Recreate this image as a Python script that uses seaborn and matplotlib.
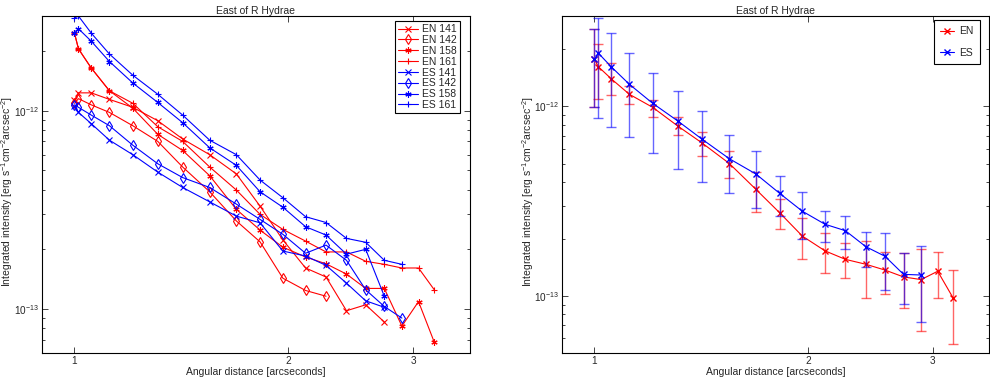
import matplotlib
matplotlib.use('Agg')
import matplotlib.pyplot as plt
import matplotlib.ticker as mticker
import numpy as np
import seaborn as sns

# Angular distance of each annulus [arcsec]
radius = [1.0, 1.013, 1.056, 1.12, 1.208, 1.31, 1.42, 1.55, 1.69, 1.825,
          1.965, 2.115, 2.26, 2.415, 2.57, 2.73, 2.89, 3.05, 3.21]

# Left panel: individual profiles (erg s-1 cm-2 arcsec-2)
en_141 = [1.13e-12, 1.23e-12, 1.23e-12, 1.14e-12, 1.04e-12, 8.9e-13, 7.2e-13, 6.0e-13,
          4.8e-13, 3.3e-13, 2.23e-13, 1.61e-13, 1.45e-13, 9.8e-14, 1.05e-13, 8.6e-14]
en_142 = [1.09e-12, 1.15e-12, 1.07e-12, 9.8e-13, 8.4e-13, 7.0e-13, 5.2e-13, 3.9e-13,
          2.78e-13, 2.18e-13, 1.43e-13, 1.24e-13, 1.16e-13]
en_158 = [2.46e-12, 2.05e-12, 1.64e-12, 1.26e-12, 1.03e-12, 7.6e-13, 6.3e-13, 4.7e-13,
          3.18e-13, 2.5e-13, 2.05e-13, 1.83e-13, 1.69e-13, 1.5e-13, 1.27e-13, 1.27e-13,
          8.2e-14, 1.09e-13, 6.8e-14]
en_161 = [2.46e-12, 2.05e-12, 1.64e-12, 1.26e-12, 1.09e-12, 8.3e-13, 7.0e-13, 5.2e-13,
          3.98e-13, 3.0e-13, 2.52e-13, 2.2e-13, 1.94e-13, 1.94e-13, 1.74e-13, 1.68e-13,
          1.61e-13, 1.61e-13, 1.25e-13]
es_141 = [1.05e-12, 9.8e-13, 8.6e-13, 7.1e-13, 6.0e-13, 4.9e-13, 4.1e-13, 3.47e-13,
          2.94e-13, 2.72e-13, 1.96e-13, 1.85e-13, 1.66e-13, 1.35e-13, 1.10e-13, 1.02e-13]
es_142 = [1.07e-12, 1.04e-12, 9.5e-13, 8.4e-13, 6.7e-13, 5.4e-13, 4.6e-13, 4.1e-13,
          3.38e-13, 2.83e-13, 2.38e-13, 1.91e-13, 2.1e-13, 1.76e-13, 1.25e-13, 1.03e-13,
          9.0e-14]
es_158 = [2.46e-12, 2.59e-12, 2.24e-12, 1.77e-12, 1.38e-12, 1.10e-12, 8.7e-13, 6.5e-13,
          5.3e-13, 3.9e-13, 3.26e-13, 2.6e-13, 2.36e-13, 1.89e-13, 2.0e-13, 1.16e-13]
es_161 = [2.93e-12, 3.0e-12, 2.46e-12, 1.93e-12, 1.51e-12, 1.21e-12, 9.5e-13, 7.1e-13,
          6.0e-13, 4.47e-13, 3.64e-13, 2.92e-13, 2.73e-13, 2.27e-13, 2.17e-13, 1.76e-13,
          1.68e-13]

# Right panel: mean profiles with lower / upper bounds
en_mean = [1.77e-12, 1.62e-12, 1.40e-12, 1.16e-12, 9.9e-13, 7.9e-13, 6.4e-13, 5.0e-13,
           3.65e-13, 2.75e-13, 2.07e-13, 1.73e-13, 1.56e-13, 1.47e-13, 1.37e-13, 1.26e-13,
           1.22e-13, 1.35e-13, 9.7e-14]
en_low = [9.9e-13, 1.10e-12, 1.15e-12, 1.03e-12, 8.8e-13, 7.1e-13, 5.5e-13, 4.2e-13,
          2.76e-13, 2.26e-13, 1.57e-13, 1.32e-13, 1.24e-13, 9.8e-14, 1.02e-13, 8.6e-14,
          6.5e-14, 9.8e-14, 5.6e-14]
en_high = [2.55e-12, 2.13e-12, 1.70e-12, 1.28e-12, 1.08e-12, 8.8e-13, 7.3e-13, 5.8e-13,
           4.5e-13, 3.23e-13, 2.57e-13, 2.14e-13, 1.9e-13, 1.96e-13, 1.71e-13, 1.69e-13,
           1.78e-13, 1.71e-13, 1.37e-13]
es_mean = [1.77e-12, 1.91e-12, 1.62e-12, 1.31e-12, 1.04e-12, 8.4e-13, 6.7e-13, 5.3e-13,
           4.4e-13, 3.48e-13, 2.8e-13, 2.39e-13, 2.21e-13, 1.82e-13, 1.62e-13, 1.30e-13,
           1.29e-13]
es_low = [9.9e-13, 8.7e-13, 7.8e-13, 6.9e-13, 5.7e-13, 4.7e-13, 4.0e-13, 3.5e-13,
          2.9e-13, 2.64e-13, 2.01e-13, 1.93e-13, 1.76e-13, 1.43e-13, 1.08e-13, 9.1e-14,
          7.3e-14]
es_high = [2.55e-12, 2.92e-12, 2.45e-12, 1.92e-12, 1.51e-12, 1.21e-12, 9.5e-13, 7.1e-13,
           5.8e-13, 4.3e-13, 3.55e-13, 2.82e-13, 2.65e-13, 2.18e-13, 2.16e-13, 1.69e-13,
           1.83e-13]

sns.set_style('ticks')
plt.rcParams['font.family'] = ['Liberation Sans', 'DejaVu Sans']
plt.rcParams['mathtext.default'] = 'regular'
plt.rcParams['font.size'] = 7.5

fig = plt.figure(figsize=(9.9, 3.79), dpi=100)
ax1 = fig.add_axes([0.0424, 0.0686, 0.432, 0.889])
ax2 = fig.add_axes([0.5677, 0.0686, 0.431, 0.889])

# (label, values, colour, marker, hollow)
left_series = [
    ('EN 141', en_141, 'red', 'x', False),
    ('EN 142', en_142, 'red', 'd', True),
    ('EN 158', en_158, 'red', (6, 2, 0), False),
    ('EN 161', en_161, 'red', '+', False),
    ('ES 141', es_141, 'blue', 'x', False),
    ('ES 142', es_142, 'blue', 'd', True),
    ('ES 158', es_158, 'blue', (6, 2, 0), False),
    ('ES 161', es_161, 'blue', '+', False),
]
for label, vals, col, mk, hollow in left_series:
    sns.lineplot(x=radius[:len(vals)], y=vals, ax=ax1, color=col, label=label,
                 marker=mk, markersize=5 if hollow else 4.5,
                 markerfacecolor='none' if hollow else col,
                 markeredgecolor=col, markeredgewidth=0.8, linewidth=0.8)

# Right panel: error bars then mean profiles
for mean, low, high, col, label in [(en_mean, en_low, en_high, 'red', 'EN'),
                                    (es_mean, es_low, es_high, 'blue', 'ES')]:
    r = radius[:len(mean)]
    m = np.array(mean)
    yerr = [m - np.array(low), np.array(high) - m]
    ax2.errorbar(r, m, yerr=yerr, fmt='none', ecolor=col, alpha=0.6,
                 elinewidth=1.0, capsize=3.6, capthick=1.0)
    sns.lineplot(x=r, y=mean, ax=ax2, color=col, label=label, marker='x',
                 markersize=4, markeredgecolor=col, markeredgewidth=1.0,
                 linewidth=0.8)

for ax, ylo in [(ax1, 6e-14), (ax2, 5e-14)]:
    ax.set_xscale('log')
    ax.set_yscale('log')
    ax.set_xlim(0.9, 3.6)
    ax.set_ylim(ylo, 3e-12)
    ax.xaxis.set_major_locator(mticker.FixedLocator([1, 2, 3]))
    ax.xaxis.set_major_formatter(mticker.FixedFormatter(['1', '2', '3']))
    ax.xaxis.set_minor_locator(mticker.NullLocator())
    ax.yaxis.set_major_locator(mticker.FixedLocator([1e-13, 1e-12]))
    ax.yaxis.set_minor_locator(mticker.FixedLocator(
        [k * 1e-14 for k in range(5, 10)] + [k * 1e-13 for k in range(2, 10)]
        + [2e-12, 3e-12]))
    ax.yaxis.set_minor_formatter(mticker.NullFormatter())
    ax.tick_params(which='both', direction='in', top=True, right=True,
                   labelsize=7.2, width=0.6, pad=2)
    ax.tick_params(which='major', length=4)
    ax.tick_params(which='minor', length=2.5)
    for sp in ax.spines.values():
        sp.set_linewidth(0.8)
        sp.set_color('black')
    ax.set_title('East of R Hydrae', fontsize=7.5, pad=1)
    ax.set_xlabel('Angular distance [arcseconds]', fontsize=7.5)
    ax.set_ylabel('Integrated intensity [erg s$^{-1}$cm$^{-2}$arcsec$^{-2}$]',
                  fontsize=7.5)
    ax.xaxis.set_label_coords(0.5, -0.041)
    ax.yaxis.set_label_coords(-0.062, 0.48)

leg1 = ax1.legend(loc='upper right', bbox_to_anchor=(0.977, 0.985), borderaxespad=0,
                  fontsize=7.5, labelspacing=0.08, handlelength=1.9,
                  handletextpad=0.4, borderpad=0.3, fancybox=False,
                  framealpha=1, edgecolor='black')
leg1.get_frame().set_linewidth(0.8)

leg2 = ax2.legend(loc='upper right', bbox_to_anchor=(0.979, 0.988), borderaxespad=0,
                  fontsize=7.5, labelspacing=1.1, handlelength=1.3,
                  handletextpad=0.5, borderpad=0.6, fancybox=False,
                  framealpha=1, edgecolor='black')
leg2.get_frame().set_linewidth(0.8)

fig.savefig('out.png', dpi=100)
